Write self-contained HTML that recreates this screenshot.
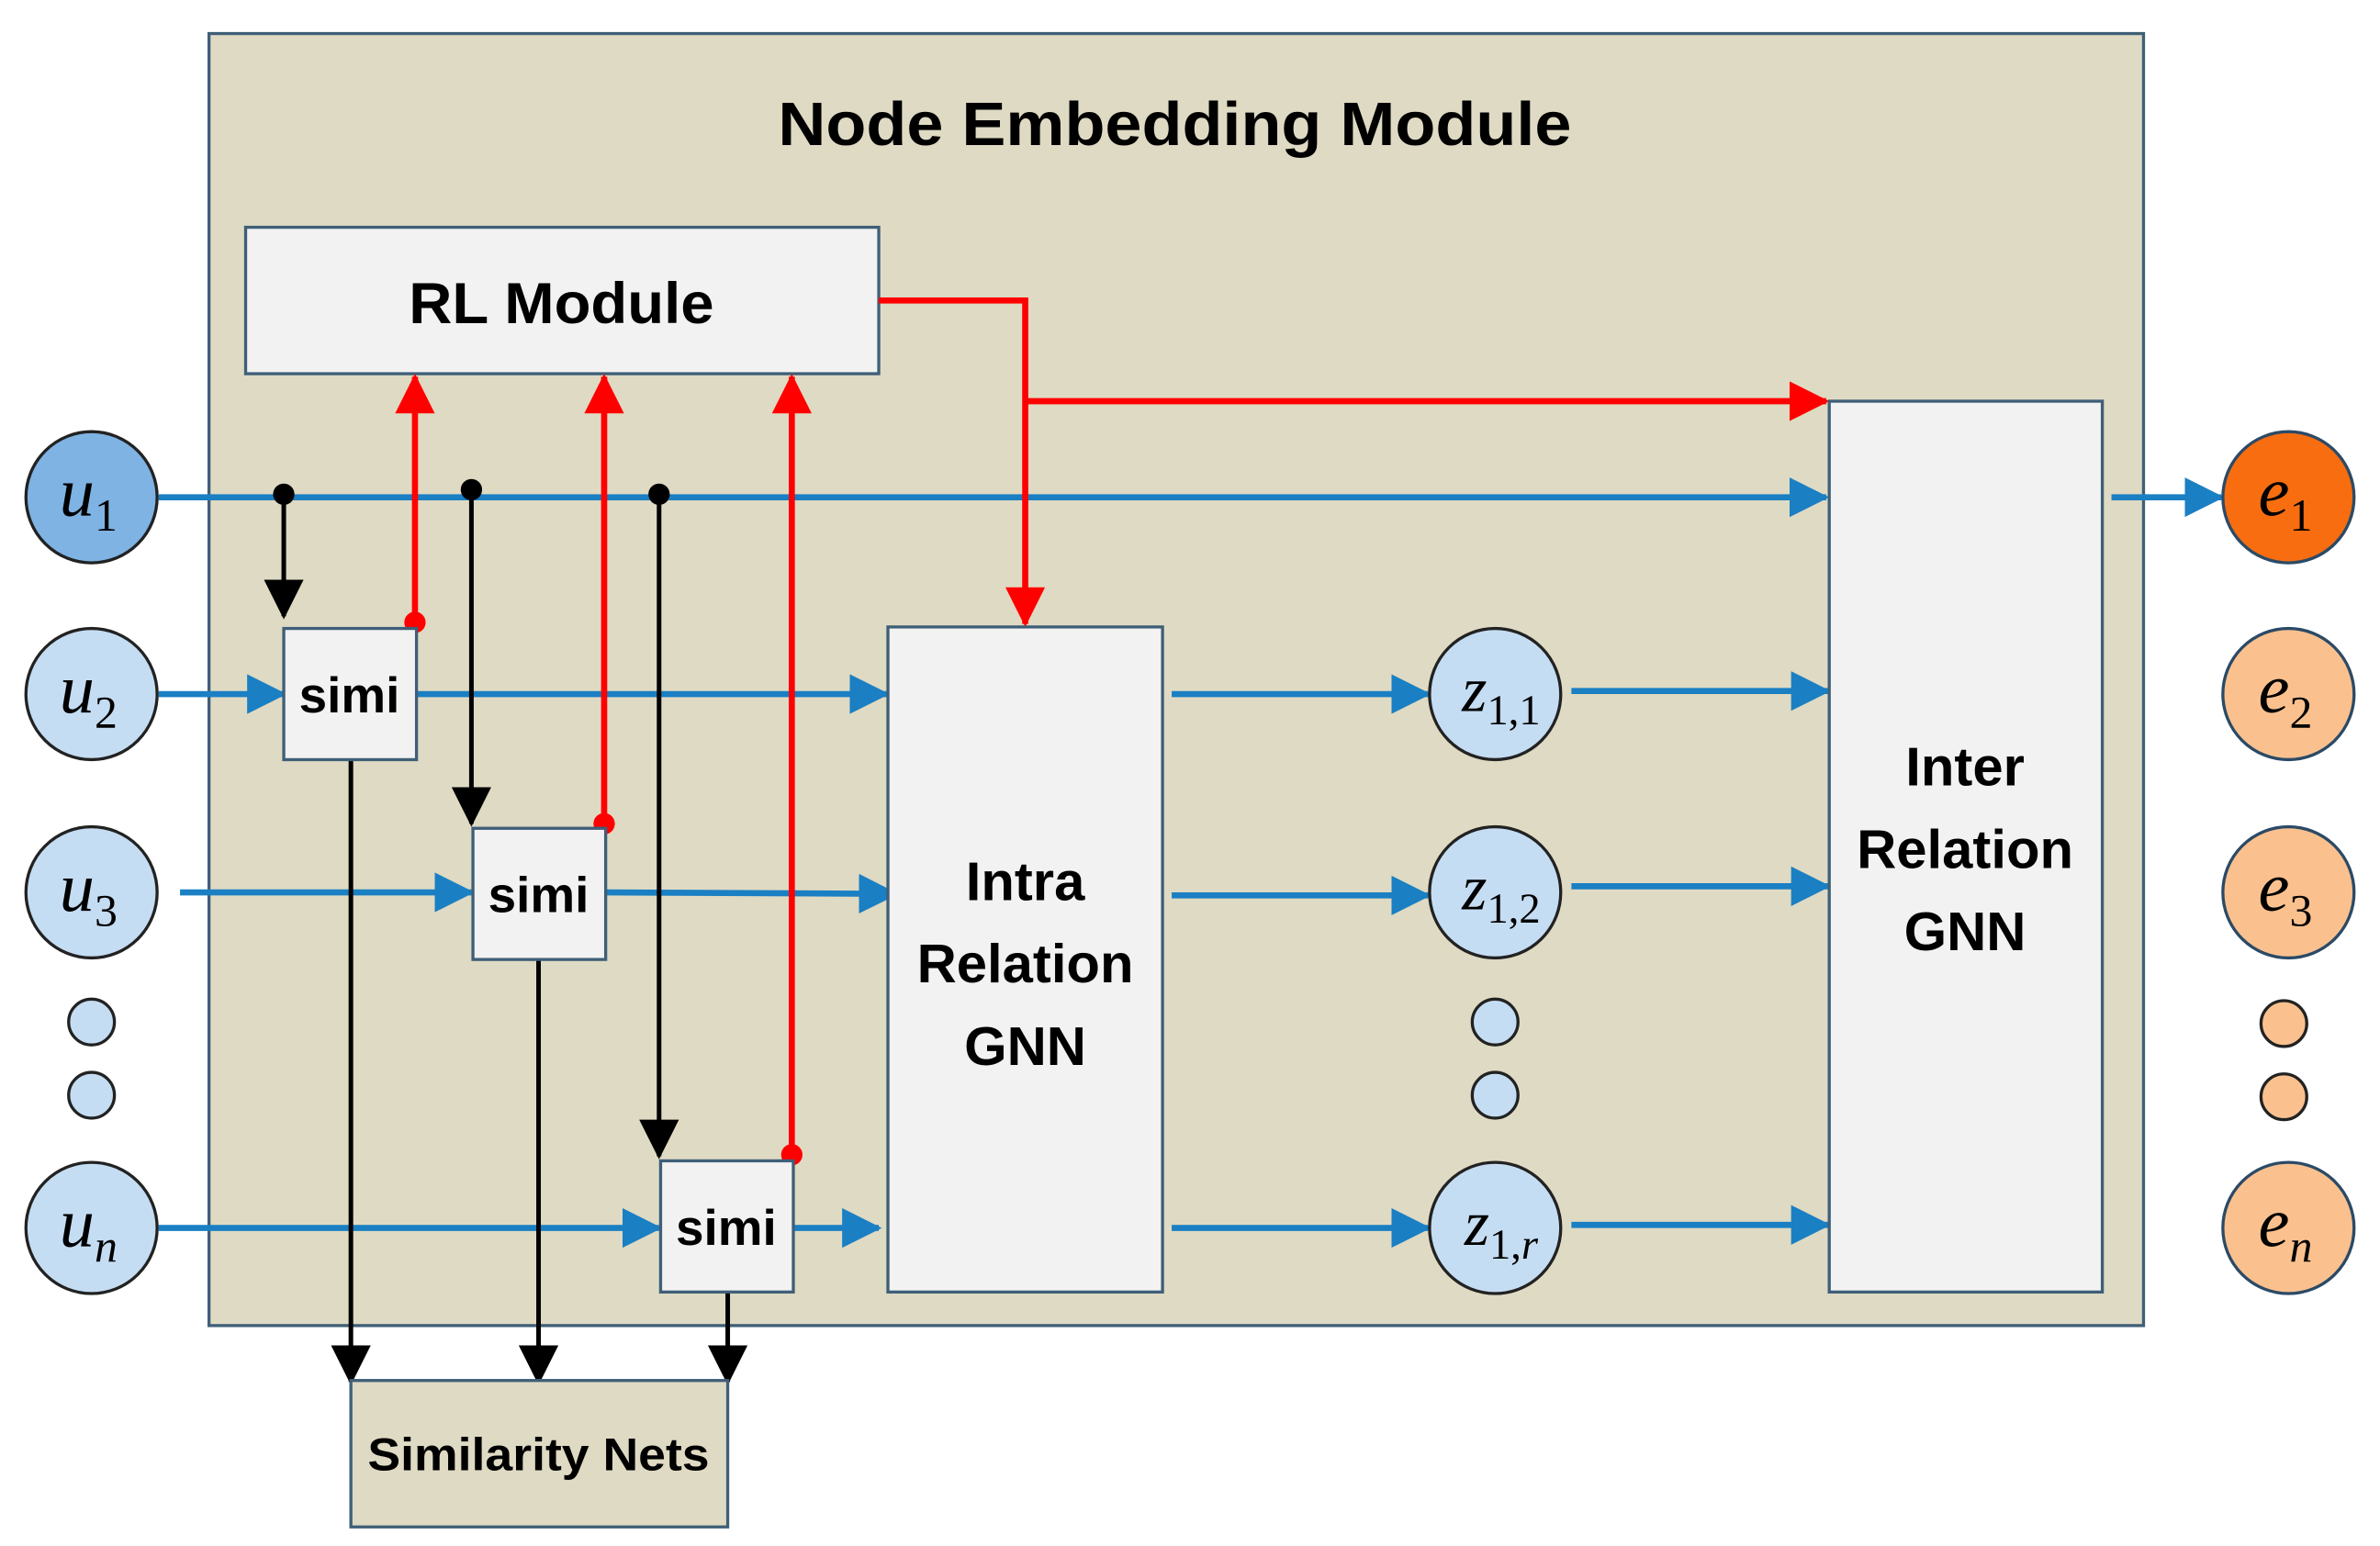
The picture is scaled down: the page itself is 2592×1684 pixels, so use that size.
<!DOCTYPE html>
<html><head><meta charset="utf-8"><style>
html,body{margin:0;padding:0;background:#fff;}
svg{display:block;}
.b{font-family:"Liberation Sans",sans-serif;font-weight:bold;fill:#000;text-anchor:middle;}
.m{font-family:"Liberation Serif",serif;font-style:italic;fill:#000;text-anchor:middle;}
</style></head><body>
<svg width="2592" height="1684" viewBox="0 0 1560 1013.5" preserveAspectRatio="none" xmlns="http://www.w3.org/2000/svg">
<defs>
<marker id="ab" markerUnits="userSpaceOnUse" markerWidth="26" markerHeight="26" refX="24" refY="13" orient="auto"><path d="M0,0 L26,13 L0,26 z" fill="#1a7fc3"/></marker>
<marker id="ar" markerUnits="userSpaceOnUse" markerWidth="26" markerHeight="26" refX="24" refY="13" orient="auto"><path d="M0,0 L26,13 L0,26 z" fill="#ff0000"/></marker>
<marker id="ak" markerUnits="userSpaceOnUse" markerWidth="26" markerHeight="26" refX="24" refY="13" orient="auto"><path d="M0,0 L26,13 L0,26 z" fill="#000"/></marker>
</defs>
<rect x="137" y="22" width="1268" height="847" fill="#dfdac3" stroke="#3f5f78" stroke-width="2"/>
<text class="b" x="770" y="95" font-size="40" textLength="520" lengthAdjust="spacingAndGlyphs">Node Embedding Module</text>
<rect x="161" y="149" width="415" height="96" fill="#f2f2f2" stroke="#3f5f78" stroke-width="2"/>
<text class="b" x="368" y="212" font-size="38" textLength="200" lengthAdjust="spacingAndGlyphs">RL Module</text>

<g stroke="#1a7fc3" stroke-width="4" fill="none">
<line x1="104" y1="326" x2="1197" y2="326" marker-end="url(#ab)"/>
<line x1="1384" y1="326" x2="1456" y2="326" marker-end="url(#ab)"/>
<line x1="104" y1="455" x2="186" y2="455" marker-end="url(#ab)"/>
<line x1="273" y1="455" x2="581" y2="455" marker-end="url(#ab)"/>
<line x1="118" y1="585" x2="309" y2="585" marker-end="url(#ab)"/>
<line x1="397" y1="585" x2="587" y2="586" marker-end="url(#ab)"/>
<line x1="104" y1="805" x2="432" y2="805" marker-end="url(#ab)"/>
<line x1="520" y1="805" x2="576" y2="805" marker-end="url(#ab)"/>
<line x1="768" y1="455" x2="936" y2="455" marker-end="url(#ab)"/>
<line x1="768" y1="587" x2="936" y2="587" marker-end="url(#ab)"/>
<line x1="768" y1="805" x2="936" y2="805" marker-end="url(#ab)"/>
<line x1="1030" y1="453" x2="1198" y2="453" marker-end="url(#ab)"/>
<line x1="1030" y1="581" x2="1198" y2="581" marker-end="url(#ab)"/>
<line x1="1030" y1="803" x2="1198" y2="803" marker-end="url(#ab)"/>
</g>

<g stroke="#000" stroke-width="3" fill="none">
<line x1="186" y1="324" x2="186" y2="404" marker-end="url(#ak)"/>
<line x1="309" y1="321" x2="309" y2="540" marker-end="url(#ak)"/>
<line x1="432" y1="324" x2="432" y2="758" marker-end="url(#ak)"/>
<line x1="230" y1="498" x2="230" y2="906" marker-end="url(#ak)"/>
<line x1="353" y1="629" x2="353" y2="906" marker-end="url(#ak)"/>
<line x1="477" y1="847" x2="477" y2="906" marker-end="url(#ak)"/>
</g>
<g fill="#000"><circle cx="186" cy="324" r="7"/><circle cx="309" cy="321" r="7"/><circle cx="432" cy="324" r="7"/></g>

<g stroke="#ff0000" stroke-width="4" fill="none">
<line x1="272" y1="408" x2="272" y2="247" marker-end="url(#ar)"/>
<line x1="396" y1="540" x2="396" y2="247" marker-end="url(#ar)"/>
<line x1="519" y1="757" x2="519" y2="247" marker-end="url(#ar)"/>
<polyline points="576,197 672,197 672,409" marker-end="url(#ar)"/>
<line x1="672" y1="263" x2="1197" y2="263" marker-end="url(#ar)"/>
</g>
<g fill="#ff0000"><circle cx="272" cy="408" r="7"/><circle cx="396" cy="540" r="7"/><circle cx="519" cy="757" r="7"/></g>

<g fill="#f2f2f2" stroke="#3f5f78" stroke-width="2">
<rect x="186" y="412" width="87" height="86"/>
<rect x="310" y="543" width="87" height="86"/>
<rect x="433" y="761" width="87" height="86"/>
</g>
<text class="b" x="229" y="467" font-size="33">simi</text>
<text class="b" x="353" y="598" font-size="33">simi</text>
<text class="b" x="476" y="816" font-size="33">simi</text>

<rect x="582" y="411" width="180" height="436" fill="#f2f2f2" stroke="#3f5f78" stroke-width="2"/>
<text class="b" x="672" y="590" font-size="36">Intra</text>
<text class="b" x="672" y="644" font-size="36">Relation</text>
<text class="b" x="672" y="698" font-size="36">GNN</text>
<rect x="1199" y="263" width="179" height="584" fill="#f2f2f2" stroke="#3f5f78" stroke-width="2"/>
<text class="b" x="1288" y="515" font-size="36">Inter</text>
<text class="b" x="1288" y="569" font-size="36">Relation</text>
<text class="b" x="1288" y="623" font-size="36">GNN</text>

<rect x="230" y="905" width="247" height="96" fill="#dfdac3" stroke="#3f5f78" stroke-width="2"/>
<text class="b" x="353" y="964" font-size="30" textLength="224" lengthAdjust="spacingAndGlyphs">Similarity Nets</text>

<g stroke="#222" stroke-width="2">
<ellipse cx="60" cy="326" rx="43" ry="43" fill="#7eb3e3"/>
<ellipse cx="60" cy="455" rx="43" ry="43" fill="#c5ddf3"/>
<ellipse cx="60" cy="585" rx="43" ry="43" fill="#c5ddf3"/>
<ellipse cx="60" cy="670" rx="15" ry="15" fill="#c5ddf3"/>
<ellipse cx="60" cy="718" rx="15" ry="15" fill="#c5ddf3"/>
<ellipse cx="60" cy="805" rx="43" ry="43" fill="#c5ddf3"/>
<ellipse cx="980" cy="455" rx="43" ry="43" fill="#c5ddf3"/>
<ellipse cx="980" cy="585" rx="43" ry="43" fill="#c5ddf3"/>
<ellipse cx="980" cy="670" rx="15" ry="15" fill="#c5ddf3"/>
<ellipse cx="980" cy="718" rx="15" ry="15" fill="#c5ddf3"/>
<ellipse cx="980" cy="805" rx="43" ry="43" fill="#c5ddf3"/>
</g>
<g stroke="#2b4a66" stroke-width="2">
<ellipse cx="1500" cy="326" rx="43" ry="43" fill="#f76d10"/>
<ellipse cx="1500" cy="455" rx="43" ry="43" fill="#fac18f"/>
<ellipse cx="1500" cy="585" rx="43" ry="43" fill="#fac18f"/>
<ellipse cx="1497" cy="671" rx="15" ry="15" fill="#fac18f" stroke="#222"/>
<ellipse cx="1497" cy="719" rx="15" ry="15" fill="#fac18f" stroke="#222"/>
<ellipse cx="1500" cy="805" rx="43" ry="43" fill="#fac18f"/>
</g>

<g font-size="46">
<text class="m" x="58" y="338">u<tspan font-size="30" font-style="normal" dy="10">1</tspan></text>
<text class="m" x="58" y="467">u<tspan font-size="30" font-style="normal" dy="10">2</tspan></text>
<text class="m" x="58" y="597">u<tspan font-size="30" font-style="normal" dy="10">3</tspan></text>
<text class="m" x="58" y="817">u<tspan font-size="30" dy="10">n</tspan></text>
<text class="m" x="1498" y="338">e<tspan font-size="30" font-style="normal" dy="10">1</tspan></text>
<text class="m" x="1498" y="467">e<tspan font-size="30" font-style="normal" dy="10">2</tspan></text>
<text class="m" x="1498" y="597">e<tspan font-size="30" font-style="normal" dy="10">3</tspan></text>
<text class="m" x="1498" y="817">e<tspan font-size="30" dy="10">n</tspan></text>
</g>
<g font-size="42">
<text class="m" x="984" y="466">z<tspan font-size="28" font-style="normal" dy="9">1,1</tspan></text>
<text class="m" x="984" y="596">z<tspan font-size="28" font-style="normal" dy="9">1,2</tspan></text>
<text class="m" x="984" y="816">z<tspan font-size="28" font-style="normal" dy="9">1,<tspan font-style="italic">r</tspan></tspan></text>
</g>
</svg>
</body></html>
